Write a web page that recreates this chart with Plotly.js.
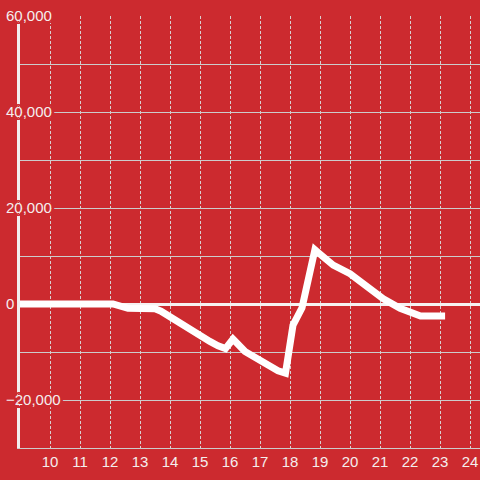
<!DOCTYPE html>
<html>
<head>
<meta charset="utf-8">
<script src="https://cdn.plot.ly/plotly-3.0.1.min.js"></script>
<style>
html,body{margin:0;padding:0;background:#cc2a2f;}
#chart{width:480px;height:480px;}
</style>
</head>
<body>
<div id="chart"></div>
<script>
// Data
var xValues = [9, 12.1, 12.6, 13.5, 13.7, 14.0, 14.33, 14.67, 15.0, 15.33, 15.6, 15.85, 16.1, 16.5, 16.8, 17.1, 17.4, 17.6, 17.85, 18.1, 18.4, 18.83, 19.0, 19.44, 20.0, 20.56, 21.11, 21.67, 22.0, 22.35, 23.17];
var yValues = [0, 0, -900, -1000, -1500, -2700, -4100, -5200, -6700, -7800, -8700, -9300, -7300, -9900, -11000, -12200, -13200, -13900, -14400, -4400, -800, 11300, 10400, 8100, 6300, 3700, 1100, -900, -1700, -2500, -2500];
var yTickVals = [-20000, 0, 20000, 40000, 60000];
var xTickVals = [10, 11, 12, 13, 14, 15, 16, 17, 18, 19, 20, 21, 22, 23, 24];

var bg = '#cc2a2f';
var halo = [
  '3px 0 0 ' + bg, '-3px 0 0 ' + bg, '0 3px 0 ' + bg, '0 -3px 0 ' + bg,
  '2px 2px 0 ' + bg, '-2px 2px 0 ' + bg, '2px -2px 0 ' + bg, '-2px -2px 0 ' + bg
].join(', ');

var trace = {
  x: xValues,
  y: yValues,
  type: 'scatter',
  mode: 'lines',
  line: {color: '#ffffff', width: 7},
  hoverinfo: 'skip'
};

var layout = {
  width: 480,
  height: 480,
  margin: {l: 20, r: 0, t: 16, b: 32},
  paper_bgcolor: bg,
  plot_bgcolor: bg,
  showlegend: false,
  font: {family: 'Liberation Sans, Arial, sans-serif', size: 15, color: '#f4eeee'},
  xaxis: {
    range: [9, 24.3333],
    tickmode: 'array',
    tickvals: xTickVals,
    ticks: '',
    showgrid: true,
    gridcolor: '#d8d0d0',
    gridwidth: 1,
    griddash: '3px,2px',
    zeroline: false,
    showline: true,
    linecolor: '#cccccc',
    linewidth: 1,
    tickfont: {size: 15, color: '#f4eeee'},
    fixedrange: true
  },
  yaxis: {
    range: [-30000, 60000],
    tickmode: 'array',
    tickvals: yTickVals,
    tickformat: ',d',
    ticks: '',
    showgrid: true,
    gridcolor: '#cccccc',
    gridwidth: 1,
    minor: {dtick: 10000, tick0: 0, showgrid: true, gridcolor: '#cccccc', gridwidth: 1, ticks: ''},
    zeroline: true,
    zerolinecolor: '#f6f2f2',
    zerolinewidth: 3,
    showline: true,
    linecolor: '#f2eeee',
    linewidth: 3,
    ticklabelposition: 'inside',
    ticklabelstandoff: -14,
    ticklabeloverflow: 'allow',
    tickfont: {size: 15, color: '#f4eeee', shadow: halo},
    fixedrange: true
  }
};

Plotly.newPlot('chart', [trace], layout, {displayModeBar: false, staticPlot: true});
</script>
</body>
</html>
